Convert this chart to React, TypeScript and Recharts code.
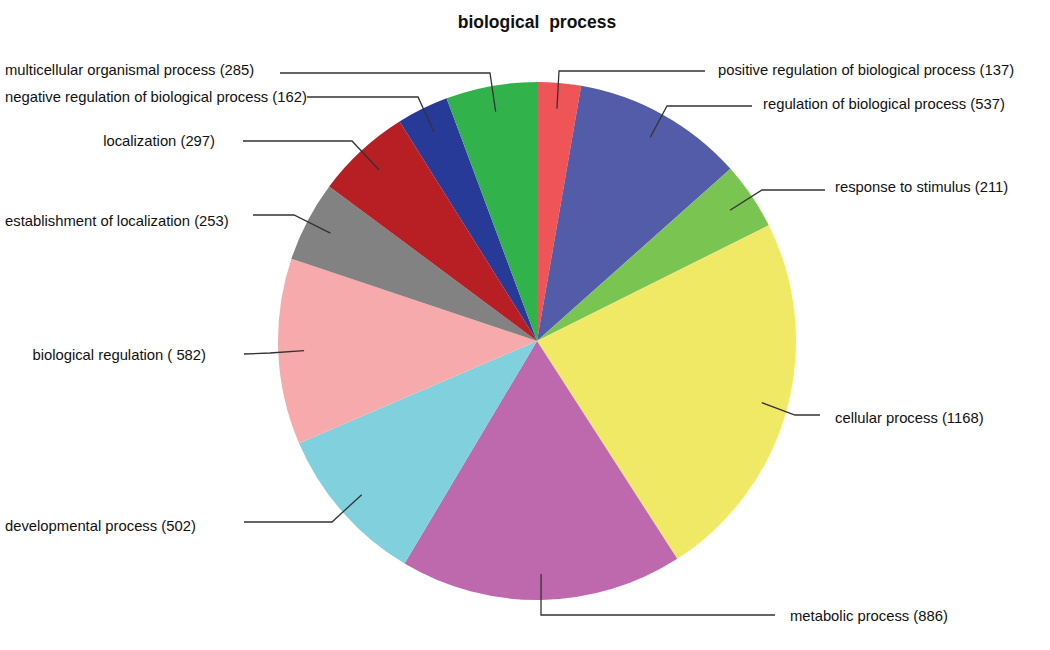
import React from "react";
import { PieChart, Pie, Cell } from "recharts";

// GO terms, clockwise from 12 o'clock
const categories = [
  "positive regulation of biological process",
  "regulation of biological process",
  "response to stimulus",
  "cellular process",
  "metabolic process",
  "developmental process",
  "biological regulation",
  "establishment of localization",
  "localization",
  "negative regulation of biological process",
  "multicellular organismal process",
];

const counts = [137, 537, 211, 1168, 886, 502, 582, 253, 297, 162, 285];

const sliceColors = [
  "#ef5557",
  "#525ca9",
  "#7ac452",
  "#f0e965",
  "#be68ad",
  "#80d1dd",
  "#f6aaab",
  "#828282",
  "#b81f24",
  "#283a97",
  "#31b24b",
];

const data = categories.map((name, i) => ({
  name,
  value: counts[i],
  // the reference writes "( 582)" for this one
  label: i === 6 ? `${name} ( ${counts[i]})` : `${name} (${counts[i]})`,
}));

// where each callout goes: elbow point, end of leader line, text position
const labelLayout = [
  { ex: 559, ey: 71, lx: 705, ly: 71, tx: 718, ty: 70, anchor: "start" },
  { ex: 667, ey: 106, lx: 752, ly: 106, tx: 763, ty: 104, anchor: "start" },
  { ex: 762, ey: 190, lx: 825, ly: 190, tx: 835, ty: 187, anchor: "start" },
  { ex: 795, ey: 415, lx: 820, ly: 415, tx: 835, ty: 418, anchor: "start" },
  { ex: 541, ey: 615, lx: 775, ly: 615, tx: 790, ty: 616, anchor: "start" },
  { ex: 332, ey: 522, lx: 244, ly: 522, tx: 5, ty: 526, anchor: "start" },
  { ex: 270, ey: 353, lx: 244, ly: 354, tx: 206, ty: 355, anchor: "end" },
  { ex: 294, ey: 215, lx: 253, ly: 215, tx: 5, ty: 221, anchor: "start" },
  { ex: 352, ey: 141, lx: 243, ly: 141, tx: 215, ty: 141, anchor: "end" },
  { ex: 418, ey: 97, lx: 307, ly: 97, tx: 5, ty: 97, anchor: "start" },
  { ex: 490, ey: 73, lx: 280, ly: 73, tx: 5, ty: 70, anchor: "start" },
];

const RADIAN = Math.PI / 180;

const renderCallout = (props: any) => {
  const { cx, cy, midAngle, outerRadius, index } = props;
  const r = outerRadius * 0.9;
  const ax = cx + r * Math.cos(-midAngle * RADIAN);
  const ay = cy + r * Math.sin(-midAngle * RADIAN);
  const l = labelLayout[index];
  return (
    <g key={`callout-${index}`}>
      <polyline
        points={`${ax},${ay} ${l.ex},${l.ey} ${l.lx},${l.ly}`}
        fill="none"
        stroke="#333"
        strokeWidth={1.3}
      />
      <text
        x={l.tx}
        y={l.ty}
        textAnchor={l.anchor}
        dominantBaseline="central"
        fontSize={14.8}
        fill="#111"
        fontFamily="Liberation Sans, Arial, sans-serif"
      >
        {data[index].label}
      </text>
    </g>
  );
};

export default function App() {
  return (
    <div style={{ position: "absolute", left: 0, top: 0, background: "#fff" }}>
      <PieChart width={1050} height={650} margin={{ top: 0, right: 0, bottom: 0, left: 0 }}>
        <text
          x={537}
          y={22}
          textAnchor="middle"
          dominantBaseline="central"
          fontSize={17.5}
          fontWeight="bold"
          fill="#111"
          fontFamily="Liberation Sans, Arial, sans-serif"
          style={{ whiteSpace: "pre" }}
        >
          {"biological  process"}
        </text>
        <Pie
          data={data}
          dataKey="value"
          nameKey="name"
          cx={537}
          cy={341}
          outerRadius={259}
          startAngle={90}
          endAngle={-270}
          stroke="none"
          label={renderCallout}
          labelLine={false}
          isAnimationActive={false}
        >
          {data.map((entry, index) => (
            <Cell key={`cell-${index}`} fill={sliceColors[index]} />
          ))}
        </Pie>
      </PieChart>
    </div>
  );
}
